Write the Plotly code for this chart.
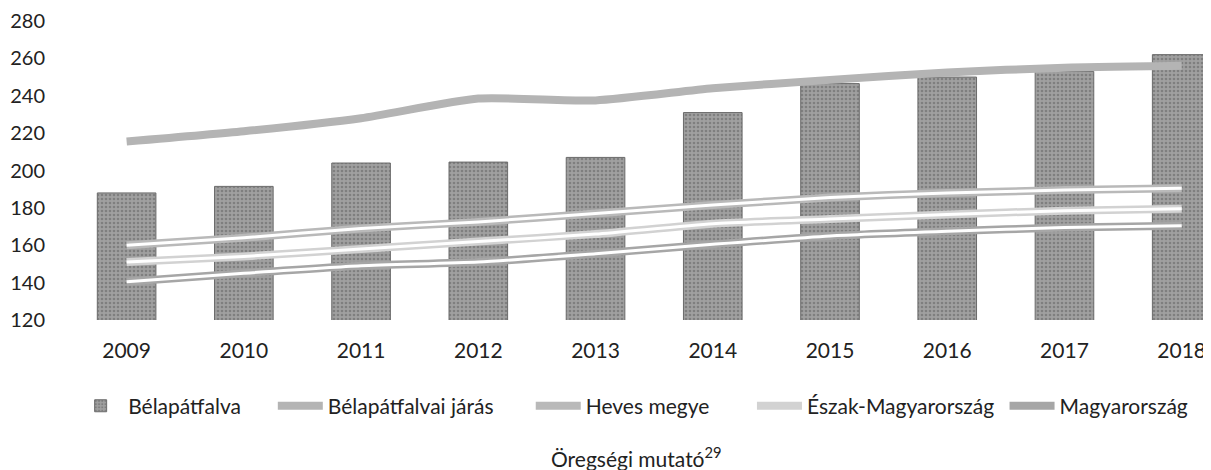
import plotly.graph_objects as go

years = ["2009", "2010", "2011", "2012", "2013", "2014", "2015", "2016", "2017", "2018"]
belapatfalva = [188, 191.5, 204, 204.5, 207, 231, 246.5, 250, 253, 262]
belapatfalvai_jaras = [215.5, 221, 228, 238.5, 237.5, 244, 248.5, 252.5, 255, 256]
heves_megye = [160, 164, 169, 172.5, 177, 181.5, 185.5, 188, 189.5, 190.5]
eszak_magyarorszag = [151, 154, 158, 162, 166, 171.5, 174, 176.5, 178.5, 179.5]
magyarorszag = [140.5, 145, 149, 151, 155.5, 160.5, 165, 167.5, 169.5, 170.5]

FONT = "Lato"
NB = "\u00a0"
fig = go.Figure()
fig.add_trace(go.Bar(
    x=years, y=belapatfalva, name="Bélapátfalva" + NB * 5,
    marker=dict(color="#8d8d8d", line=dict(color="#6a6a6a", width=1),
                pattern=dict(shape=".", fgcolor="#5e5e5e", bgcolor="#a0a0a0", size=4, solidity=0.35)),
    width=0.5,
))

line_specs = [
    ("Bélapátfalvai járás" + NB * 6, belapatfalvai_jaras, "#b4b4b4", 8, None),
    ("Heves megye" + NB * 7, heves_megye, "#b9b9b9", 8, "#ffffff"),
    ("Észak-Magyarország" + NB * 1, eszak_magyarorszag, "#d2d2d2", 8, "#ffffff"),
    ("Magyarország", magyarorszag, "#a6a6a6", 8, "#ffffff"),
]
for name, vals, col, w, core in line_specs:
    fig.add_trace(go.Scatter(
        x=years, y=vals, name=name, mode="lines",
        line=dict(color=col, width=w, shape="spline", smoothing=0.6),
    ))
    if core:
        fig.add_trace(go.Scatter(
            x=years, y=vals, mode="lines", showlegend=False, hoverinfo="skip",
            line=dict(color=core, width=3, shape="spline", smoothing=0.6),
        ))

# plot area: top 13, bottom 312 in figure pixels
fig.add_annotation(
    text="Öregségi mutató<sup>29</sup>", xref="paper", yref="paper",
    x=0.497, y=-0.458, xanchor="center", yanchor="middle", showarrow=False,
    font=dict(family=FONT, size=21, color="#222222"),
)

fig.update_layout(
    width=1203, height=462,
    margin=dict(l=60, r=0, t=13, b=150, autoexpand=False),
    paper_bgcolor="white", plot_bgcolor="white",
    font=dict(family=FONT, size=20, color="#222222"),
    bargap=0.5,
    showlegend=True,
    legend=dict(orientation="h", x=0.0045, xanchor="left", y=-0.288, yanchor="middle",
                font=dict(family=FONT, size=21, color="#222222"),
                itemwidth=45, tracegroupgap=0, traceorder="normal"),
    xaxis=dict(type="category", range=[-0.5, 9.25], showgrid=False, zeroline=False,
               showline=False, ticks="", ticklabelstandoff=16, automargin=False,
               tickfont=dict(family=FONT, size=21)),
    yaxis=dict(range=[120, 280], dtick=20, showgrid=False, zeroline=False,
               showline=False, ticks="", ticklabelstandoff=22, automargin=False,
               tickfont=dict(family=FONT, size=20)),
)

fig.write_html("out.html")
